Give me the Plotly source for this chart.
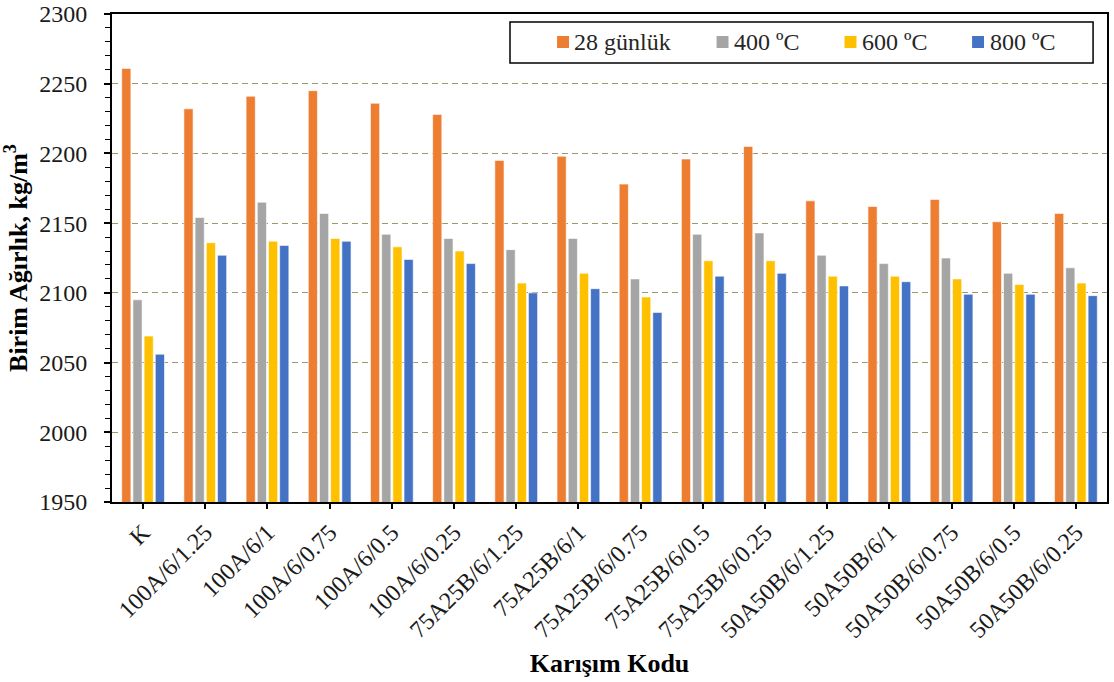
import plotly.graph_objects as go

# Mix codes on the category axis
mixes = ["K", "100A/6/1.25", "100A/6/1", "100A/6/0.75", "100A/6/0.5", "100A/6/0.25",
         "75A25B/6/1.25", "75A25B/6/1", "75A25B/6/0.75", "75A25B/6/0.5", "75A25B/6/0.25",
         "50A50B/6/1.25", "50A50B/6/1", "50A50B/6/0.75", "50A50B/6/0.5", "50A50B/6/0.25"]

# Unit weight (kg/m3) per exposure condition
w_28d = [2261, 2232, 2241, 2245, 2236, 2228, 2195, 2198, 2178, 2196, 2205,
         2166, 2162, 2167, 2151, 2157]
w_400 = [2095, 2154, 2165, 2157, 2142, 2139, 2131, 2139, 2110, 2142, 2143,
         2127, 2121, 2125, 2114, 2118]
w_600 = [2069, 2136, 2137, 2139, 2133, 2130, 2107, 2114, 2097, 2123, 2123,
         2112, 2112, 2110, 2106, 2107]
w_800 = [2056, 2127, 2134, 2137, 2124, 2121, 2100, 2103, 2086, 2112, 2114,
         2105, 2108, 2099, 2099, 2098]

series_names = ["28 günlük", "400 ºC", "600 ºC", "800 ºC"]
series_values = [w_28d, w_400, w_600, w_800]
series_colors = ["#ED7D31", "#A5A5A5", "#FFC000", "#4472C4"]

FONT = "Liberation Serif, Times New Roman, serif"

fig = go.Figure()
for name, vals, color in zip(series_names, series_values, series_colors):
    fig.add_trace(go.Bar(
        x=mixes, y=vals, name=name, showlegend=False,
        marker=dict(color=color, line=dict(color="rgba(255,255,255,0.6)", width=1)),
    ))

# Boxed horizontal legend in the upper right of the plot area
fig.add_shape(type="rect", xref="paper", yref="paper",
              x0=0.400, x1=0.986, y0=0.8996, y1=0.9836,
              line=dict(color="black", width=1.5), fillcolor="white", layer="above")
legend_sym_x = [0.4533, 0.6136, 0.7422, 0.8704]
legend_y = 0.9426
for sx, name, color in zip(legend_sym_x, series_names, series_colors):
    fig.add_shape(type="rect", xref="paper", yref="paper",
                  x0=sx - 0.0060, x1=sx + 0.0060, y0=legend_y - 0.0123, y1=legend_y + 0.0123,
                  line=dict(width=0), fillcolor=color, layer="above")
    fig.add_annotation(xref="paper", yref="paper", x=sx + 0.0095, y=legend_y,
                       xanchor="left", yanchor="middle", showarrow=False,
                       text=name, font=dict(family=FONT, size=24, color="#262626"))

fig.update_layout(
    width=1114, height=682,
    margin=dict(l=112, r=7, t=14, b=180),
    paper_bgcolor="white", plot_bgcolor="white",
    barmode="group", bargap=0.28, bargroupgap=0.18,
    font=dict(family=FONT, size=24, color="black"),
)

fig.update_xaxes(
    automargin=False,
    showline=True, linecolor="black", linewidth=2, mirror=True,
    ticks="outside", ticklen=5, tickwidth=1.5, tickcolor="black",
    tickangle=-45, tickfont=dict(family=FONT, size=24, color="#1a1a1a"),
    showgrid=False,
    title=dict(text="<b>Karışım Kodu</b>", font=dict(family=FONT, size=26), standoff=12),
)

fig.update_yaxes(
    automargin=False,
    range=[1950, 2300], dtick=50,
    showline=True, linecolor="black", linewidth=2, mirror=True,
    ticks="outside", ticklen=6, tickwidth=1.5, tickcolor="black",
    tickfont=dict(family=FONT, size=24, color="#1a1a1a"), ticklabelstandoff=12,
    showgrid=True, gridcolor="#9E9868", gridwidth=1, griddash="6px,4px",
    minor=dict(dtick=10, ticks="outside", ticklen=5, tickwidth=1, tickcolor="black", showgrid=False),
    zeroline=False,
    title=dict(text="<b>Birim Ağırlık, kg/m<sup>3</sup></b>", font=dict(family=FONT, size=26), standoff=4),
)

fig.write_html("out.html")
